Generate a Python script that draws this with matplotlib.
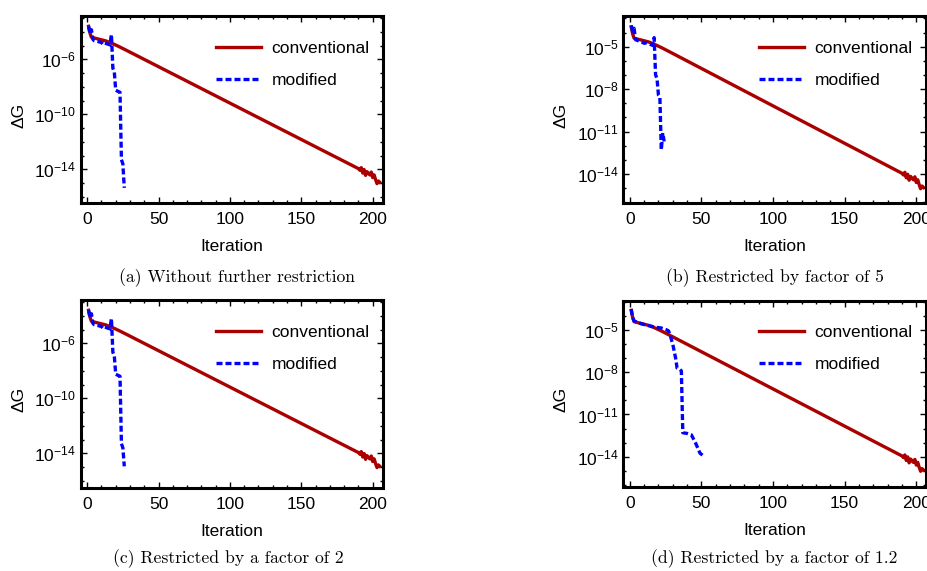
import numpy as np
import matplotlib
matplotlib.use('Agg')
import matplotlib.pyplot as plt
from matplotlib.ticker import FixedLocator, LogFormatterSciNotation, MultipleLocator, NullFormatter

plt.rcParams['font.family'] = ['Liberation Sans', 'DejaVu Sans']
plt.rcParams['mathtext.fontset'] = 'custom'
plt.rcParams['mathtext.rm'] = 'Liberation Sans'
plt.rcParams['mathtext.it'] = 'Liberation Sans:italic'
plt.rcParams['axes.unicode_minus'] = True

## data: iteration number and log10(dG)

conv_iter = [1, 2, 3, 8, 13, 17, 22, 27, 190, 191, 192, 193, 194, 195, 196, 197,
             198, 199, 200, 201, 202, 203, 204, 205]
conv_log = [-3.6, -4.1, -4.4, -4.53, -4.66, -4.82, -5.06, -5.32, -13.95, -14.07,
            -13.88, -14.27, -14.02, -14.44, -14.17, -14.3, -14.41, -14.2, -14.6,
            -14.41, -14.75, -15.04, -14.85, -14.95]

# (a) without further restriction
mod_a_iter = [1, 2, 3, 4, 5, 8, 10, 11, 12, 14, 16, 17, 18, 19, 20, 23, 24, 25, 26]
mod_a_log = [-3.6, -4.15, -3.85, -4.55, -4.65, -4.72, -4.78, -4.9, -4.8, -4.88,
             -4.95, -4.2, -6.65, -6.9, -8.25, -8.4, -13.3, -13.6, -15.35]

# (b) restricted by factor of 5
mod_b_iter = [1, 2, 3, 4, 5, 8, 10, 12, 15, 16, 17, 18, 19, 20, 21, 22, 23, 24]
mod_b_log = [-3.5, -3.9, -3.7, -4.5, -4.55, -4.65, -4.76, -4.72, -4.87, -4.9,
             -4.36, -7.0, -7.24, -8.42, -8.55, -12.3, -11.1, -11.7]

# (c) restricted by a factor of 2
mod_c_iter = [1, 2, 3, 4, 5, 8, 10, 11, 12, 14, 16, 17, 18, 19, 20, 23, 24, 25, 26]
mod_c_log = [-3.6, -4.15, -3.85, -4.55, -4.65, -4.72, -4.78, -4.9, -4.8, -4.88,
             -4.95, -4.2, -6.65, -6.9, -8.25, -8.4, -13.3, -13.6, -14.95]

# (d) restricted by a factor of 1.2
mod_d_iter = [1, 2, 3, 8, 14, 18, 22, 25, 27, 28, 30, 32, 33, 35, 36, 37, 40, 43,
              46, 49, 52]
mod_d_log = [-3.5, -4.1, -4.35, -4.55, -4.7, -4.8, -4.85, -4.95, -5.05, -5.3,
             -6.0, -7.0, -7.7, -7.8, -7.9, -12.3, -12.35, -12.45, -13.05, -13.75,
             -14.0]

captions = ['(a) Without further restriction', '(b) Restricted by factor of 5',
            '(c) Restricted by a factor of 2', '(d) Restricted by a factor of 1.2']

panels = [(mod_a_iter, mod_a_log), (mod_b_iter, mod_b_log),
          (mod_c_iter, mod_c_log), (mod_d_iter, mod_d_log)]
y_labelled = [np.arange(-14, -2, 4), np.arange(-14, -2, 3),
              np.arange(-14, -2, 4), np.arange(-14, -2, 3)]
y_limits = [(-16.47, -2.85), (-16.07, -2.83), (-16.55, -2.85), (-16.18, -2.9)]

# axes boxes in figure fractions [left, bottom, width, height]
boxes = [[0.087, 0.644, 0.3254, 0.328], [0.6717, 0.644, 0.3265, 0.328],
         [0.087, 0.1448, 0.3254, 0.3298], [0.6717, 0.1466, 0.3265, 0.327]]
cap_pos = [(0.255, 0.513), (0.835, 0.513), (0.246, 0.022), (0.834, 0.022)]

red = '#AA0000'
blue = '#0000FF'

fig = plt.figure(figsize=(9.28, 5.71), dpi=100)

for k in range(4):
    ax = fig.add_axes(boxes[k])
    it, lg = panels[k]
    ax.plot(conv_iter, 10.0 ** np.array(conv_log), color=red, lw=2.4,
            label='conventional', zorder=2)
    ax.plot(it, 10.0 ** np.array(lg), color=blue, lw=2.4,
            linestyle=(0, (1.8, 0.9)), label='modified', zorder=3)
    ax.set_yscale('log')
    ax.set_xlim(-4.5, 207)
    lo, hi = y_limits[k]
    ax.set_ylim(10.0 ** lo, 10.0 ** hi)

    ax.xaxis.set_major_locator(MultipleLocator(50))
    ax.xaxis.set_minor_locator(MultipleLocator(10))
    ax.yaxis.set_major_locator(FixedLocator(10.0 ** y_labelled[k]))
    ax.yaxis.set_major_formatter(LogFormatterSciNotation())
    ax.yaxis.set_minor_locator(FixedLocator(10.0 ** np.arange(-17, -2)))
    ax.yaxis.set_minor_formatter(NullFormatter())
    ax.tick_params(which='both', direction='in', top=True, right=True,
                   labelsize=12.5, width=1.0)
    ax.tick_params(which='major', length=4.5)
    ax.tick_params(which='minor', length=2.5)
    ax.tick_params(axis='x', pad=6)
    for s in ax.spines.values():
        s.set_linewidth(2.2)

    ax.set_xlabel('Iteration', fontsize=12.5, labelpad=9)
    ax.set_ylabel('ΔG', fontsize=12.5)
    ax.yaxis.set_label_coords(-0.18, 0.47)

    ax.legend(loc='upper left', bbox_to_anchor=(0.43, 0.897), frameon=False,
              fontsize=12.5, handlelength=2.6, handletextpad=0.6,
              labelspacing=0.97, borderpad=0.3, borderaxespad=0)

    fig.text(cap_pos[k][0], cap_pos[k][1], captions[k], ha='center',
             va='center', fontsize=12.7, family='cmr10')

fig.savefig('out.png', dpi=100)
